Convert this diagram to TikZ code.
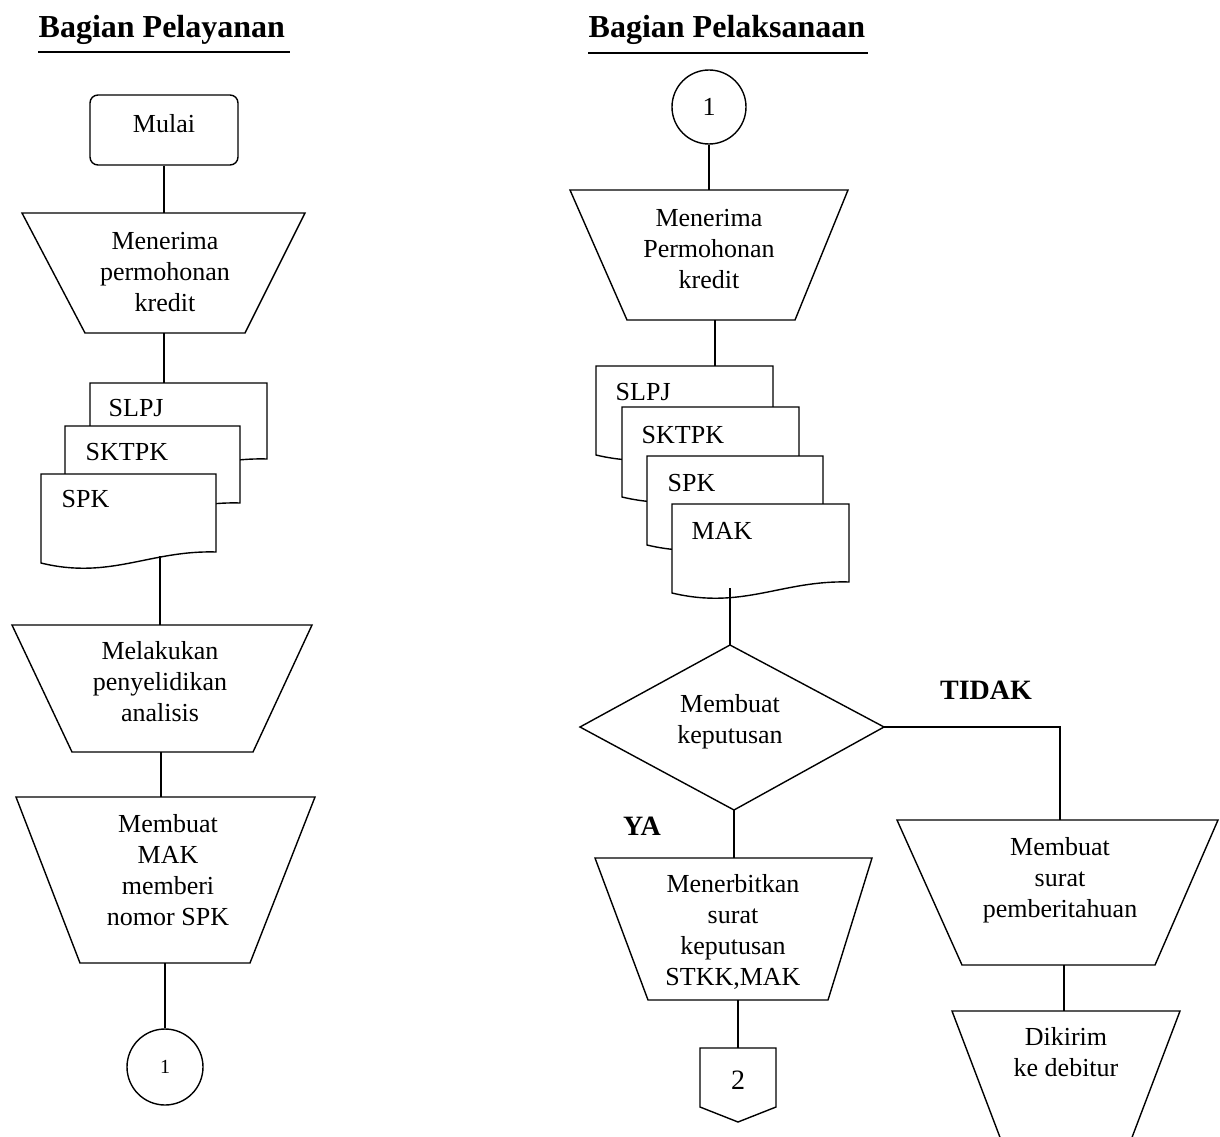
\documentclass[tikz,border=0pt]{standalone}
\usepackage{fontspec}
\setmainfont{Liberation Serif}
\begin{document}
\begin{tikzpicture}[x=1pt,y=-1pt, line width=1.4pt, line join=miter,
 lbl/.style={font=\fontsize{26}{31}\selectfont, align=center, inner sep=0pt},
 head/.style={font=\fontsize{32}{38}\selectfont\bfseries, anchor=base west, inner sep=0pt},
 yn/.style={font=\fontsize{28}{32}\selectfont\bfseries, inner sep=0pt},
 doclbl/.style={font=\fontsize{26}{31}\selectfont, anchor=west, inner sep=0pt},
 shp/.style={draw, fill=white}]
\useasboundingbox (0,0) rectangle (1220,1137);
\clip (0,0) rectangle (1220,1137);

% headers
\node[head] (h1) at (38,38) {Bagian Pelayanan};
\draw (38,52) -- (290,52);
\node[head] (h2) at (588,38) {Bagian Pelaksanaan};
\draw (588,53) -- (868,53);

% ===== left column =====
\node[draw, rounded corners=8pt, minimum width=148pt, minimum height=70pt] (mulai) at (164,130) {};
\node[lbl] (mulaiT) at (164,124) {Mulai};

\draw[shp] (22,213) -- (305,213) -- (245,333) -- (85,333) -- cycle;
\coordinate (m1top) at (164,213); \coordinate (m1bot) at (164,333);
\node[lbl] (m1) at (165,272) {Menerima\\permohonan\\kredit};

% document stack (left)
\draw[shp] (90,383) -- (267,383) -- (267,459) .. controls (200,457) and (161,487) .. (90,470) -- cycle;
\draw[shp] (65,426) -- (240,426) -- (240,503) .. controls (173,501) and (135,531) .. (65,514) -- cycle;
\draw[shp] (41,474) -- (216,474) -- (216,552) .. controls (150,550) and (110,580) .. (41,563) -- cycle;
\coordinate (d1top) at (164,383); \coordinate (d1bot) at (160,556);
\node[doclbl] (l1) at (108,408) {SLPJ};
\node[doclbl] (l2) at (85,452) {SKTPK};
\node[doclbl] (l3) at (61,499) {SPK};

\draw[shp] (12,625) -- (312,625) -- (253,752) -- (72,752) -- cycle;
\coordinate (m2top) at (160,625); \coordinate (m2bot) at (161,752);
\node[lbl] (m2) at (160,682) {Melakukan\\penyelidikan\\analisis};

\draw[shp] (16,797) -- (315,797) -- (250,963) -- (80,963) -- cycle;
\coordinate (m3top) at (161,797); \coordinate (m3bot) at (165,963);
\node[lbl] (m3) at (168,870) {Membuat\\MAK\\memberi\\nomor SPK};

\node[draw, circle, minimum size=76pt, inner sep=0pt, font=\fontsize{20}{24}\selectfont] (c1) at (165,1067) {1};

\draw (mulai.south) -- (m1top);
\draw (m1bot) -- (d1top);
\draw (d1bot) -- (m2top);
\draw (m2bot) -- (m3top);
\draw (m3bot) -- (c1.north);

% ===== right column =====
\node[draw, circle, minimum size=74pt, inner sep=0pt, font=\fontsize{26}{30}\selectfont] (c2) at (709,107) {1};

\draw[shp] (570,190) -- (848,190) -- (795,320) -- (627,320) -- cycle;
\coordinate (r1top) at (709,190); \coordinate (r1bot) at (715,320);
\node[lbl] (r1) at (709,249) {Menerima\\Permohonan\\kredit};

% document stack (right)
\draw[shp] (596,366) -- (773,366) -- (773,444) .. controls (706,442) and (667,472) .. (596,455) -- cycle;
\draw[shp] (622,407) -- (799,407) -- (799,486) .. controls (732,484) and (693,514) .. (622,497) -- cycle;
\draw[shp] (647,456) -- (823,456) -- (823,534) .. controls (756,532) and (718,562) .. (647,545) -- cycle;
\draw[shp] (672,504) -- (849,504) -- (849,582) .. controls (782,580) and (743,610) .. (672,593) -- cycle;
\coordinate (d2top) at (715,366); \coordinate (d2bot) at (730,588);
\node[doclbl] (r2a) at (615,392) {SLPJ};
\node[doclbl] (r2b) at (641,435) {SKTPK};
\node[doclbl] (r2c) at (667,483) {SPK};
\node[doclbl] (r2d) at (691,531) {MAK};

% decision
\draw[shp] (730,645) coordinate (dT) -- (884,727) coordinate (dR) -- (734,810) coordinate (dB) -- (580,727) coordinate (dL) -- cycle;
\node[lbl] (dec) at (730,722) {Membuat\\keputusan};
\node[yn] (tidak) at (986,690) {TIDAK};
\node[yn] (ya) at (642,826) {YA};

% YA branch
\draw[shp] (595,858) -- (872,858) -- (828,1000) -- (648,1000) -- cycle;
\coordinate (y1top) at (734,858); \coordinate (y1bot) at (738,1000);
\node[lbl] (y1) at (733,932) {Menerbitkan\\surat\\keputusan\\STKK,MAK};

\draw[shp] (700,1048) coordinate (opTL) -- (776,1048) -- (776,1107) -- (738,1122) -- (700,1107) -- cycle;
\coordinate (optop) at (738,1048);
\node[font=\fontsize{28}{32}\selectfont, inner sep=0pt] (op2) at (738,1080) {2};

% TIDAK branch
\draw[shp] (897,820) -- (1218,820) -- (1155,965) -- (962,965) -- cycle;
\coordinate (t1top) at (1060,820); \coordinate (t1bot) at (1064,965);
\node[lbl] (t1) at (1060,880) {Membuat\\surat\\pemberitahuan};

\draw[shp] (952,1011) -- (1180,1011) -- (1131,1140) -- (1001,1140) -- cycle;
\coordinate (t2top) at (1064,1011);
\node[lbl] (t2) at (1066,1052) {Dikirim\\ke debitur};

\draw (c2.south) -- (r1top);
\draw (r1bot) -- (d2top);
\draw (d2bot) -- (dT);
\draw (dR) -- (1060,727) -- (t1top);
\draw (dB) -- (y1top);
\draw (y1bot) -- (optop);
\draw (t1bot) -- (t2top);
\end{tikzpicture}
\end{document}
